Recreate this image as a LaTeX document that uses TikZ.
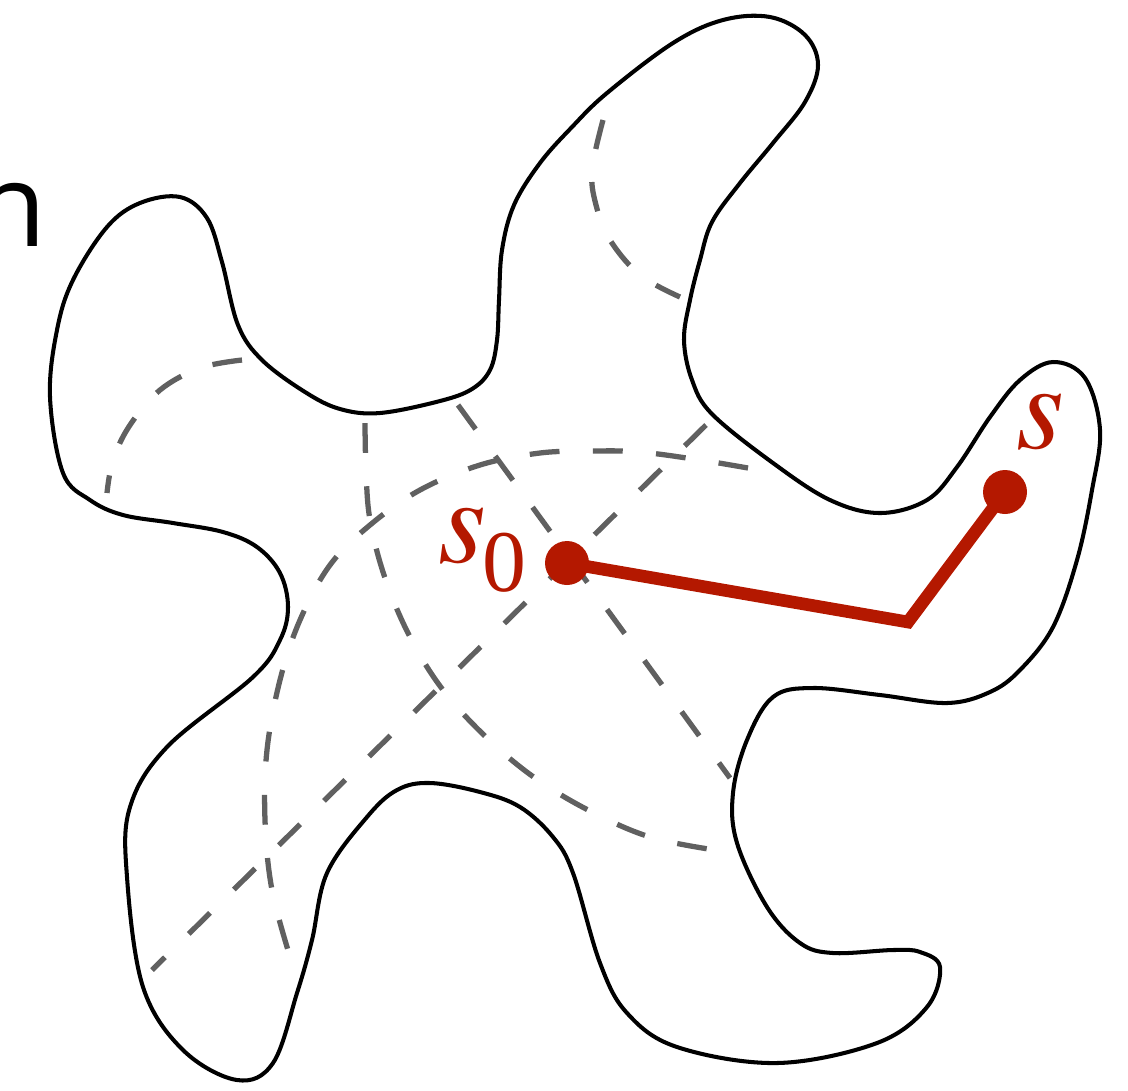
\documentclass[tikz,border=0pt]{standalone}
\usepackage{fontspec}
\setmainfont{Liberation Serif}
\newfontfamily\itf{texgyretermes-italic.otf}
\newfontfamily\sansf{Open Sans}
\definecolor{redc}{RGB}{180,24,0}
\definecolor{dashc}{RGB}{96,96,96}
\tikzset{
  outline/.style={draw=black, line width=2.3pt},
  guide/.style={draw=dashc, line width=3pt, dash pattern=on 17pt off 19pt},
  dot/.style={circle, fill=redc, inner sep=0pt, minimum size=0.88cm},
  redpath/.style={draw=redc, line width=7.2pt, line join=miter},
  lbl/.style={text=redc, inner sep=0pt, anchor=base west},
}
\begin{document}
\begin{tikzpicture}[x=0.02cm,y=-0.02cm]
\useasboundingbox (0,0) rectangle (1128,1090);
% partial sans glyph at left edge
\node[inner sep=0pt, anchor=base west] (glyph) at (-25,246) {\sansf\fontsize{66}{66}\selectfont n};
% outline
\draw[outline] plot[smooth cycle, tension=0.6] coordinates {
 (180,197) (207,218) (222,262) (238,325) (262,360) (305,392) (340,409) (380,413)
 (440,401) (472,389) (490,370) (497,340) (499,300) (502,250) (514,205) (540,163)
 (572,127) (607,93) (673,43) (723,20) (770,17) (805,35) (818,65) (805,102)
 (773,143) (740,183) (712,222) (700,260) (690,300) (684,340) (692,380) (712,414)
 (773,463) (830,500) (880,513) (927,500) (957,467) (990,417) (1020,380) (1053,362)
 (1085,378) (1100,430) (1092,490) (1077,560) (1053,627) (1020,670) (990,692) (947,703)
 (880,695) (813,688) (773,697) (747,740) (733,793) (737,843) (767,907) (800,943)
 (833,953) (893,950) (920,952) (940,967) (927,1007) (877,1043) (777,1063) (677,1047)
 (627,1013) (600,963) (573,873) (553,837) (520,807) (480,792) (430,783) (397,790)
 (367,817) (327,873) (312,940) (297,993) (273,1063) (237,1080) (183,1050) (143,987)
 (127,877) (130,807) (167,747) (253,677) (280,640) (288,607) (280,573) (257,547)
 (223,532) (173,523) (123,515) (90,500) (63,473) (50,397) (57,330) (73,280)
 (107,227) (140,203)};
% dashed guides
\draw[guide] plot[smooth, tension=0.6] coordinates {(242,360) (200,368) (160,390) (130,425) (113,460) (107,493)};
\draw[guide] plot[smooth, tension=0.6] coordinates {(603,120) (592,170) (596,205) (610,240) (640,275) (680,297)};
\draw[guide] plot[smooth, tension=0.6] coordinates {(748,468) (700,460) (640,452) (593,451) (540,453) (480,465) (420,490) (370,525) (330,565) (300,620) (280,680) (267,750) (265,820) (272,890) (291,960)};
\draw[guide] plot[smooth, tension=0.6] coordinates {(365,423) (366,470) (370,520) (385,578) (410,637) (443,690) (487,738) (535,778) (590,811) (650,837) (715,850)};
\coordinate (e1) at (458,405); \coordinate (e2) at (730,778);
\coordinate (f1) at (706,425); \coordinate (f2) at (152,970);
\draw[guide] (e1) -- (e2);
\draw[guide] (f1) -- (f2);
% red path
\node[dot] (s0) at (567,563) {};
\node[dot] (s) at (1005,492) {};
\coordinate (bend) at (908,622);
\draw[redpath] (s0.center) -- (bend) -- (s.center);
\node[lbl] (s0lbl) at (438,562) {\fontsize{70}{70}\selectfont{\itf s}\kern-2pt\raisebox{-17pt}{\fontsize{50}{50}\selectfont 0}};
\node[lbl] (slbl) at (1016,448) {\fontsize{70}{70}\selectfont\itf s};
\end{tikzpicture}
\end{document}
